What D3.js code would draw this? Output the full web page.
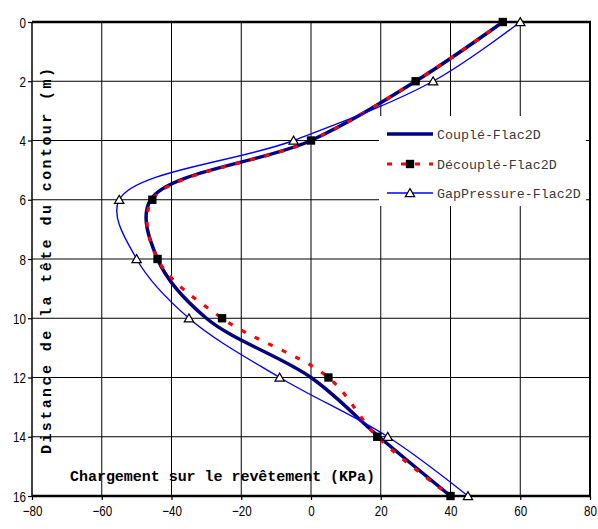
<!DOCTYPE html>
<html>
<head>
<meta charset="utf-8">
<script src="https://cdn.jsdelivr.net/npm/d3@7"></script>
<style>
  html, body { margin: 0; padding: 0; background: #fff; }
  svg { display: block; }
  .tick-label { font-family: "Liberation Sans", Arial, sans-serif; font-size: 14.5px; fill: #000; }
</style>
</head>
<body>
<svg id="chart" width="598" height="529"></svg>
<script>
// Depth along the lining (m) and load on the lining (kPa) for each model
const depths = [0, 2, 4, 6, 8, 10, 12, 14, 16];
const couple = [55, 30, 0, -46, -44, -30, 0, 19.5, 40];
const decouple = [55, 30, 0, -45.5, -44, -25.5, 5, 19, 40];
const gapPressure = [60, 35, -5, -55, -50, -35, -9, 22, 45];

const xTicks = [-80, -60, -40, -20, 0, 20, 40, 60, 80];
const yTicks = [0, 2, 4, 6, 8, 10, 12, 14, 16];

const seriesNames = ["Couplé-Flac2D", "Découplé-Flac2D", "GapPressure-Flac2D"];

const svg = d3.select("#chart");

const x = d3.scaleLinear().domain([-80, 80]).range([32, 590]);
const y = d3.scaleLinear().domain([0, 16]).range([22, 496]);

const [x0, x1] = x.range();
const [y0, y1] = y.range();

// grid
const grid = svg.append("g");
grid.selectAll("line.v").data(xTicks.filter(v => v > -80 && v < 80)).join("line")
  .attr("x1", d => x(d)).attr("x2", d => x(d))
  .attr("y1", y0).attr("y2", y1)
  .attr("stroke", "#000").attr("stroke-width", 1);
grid.selectAll("line.h").data(yTicks.filter(v => v > 0 && v < 16)).join("line")
  .attr("x1", x0).attr("x2", x1)
  .attr("y1", d => y(d)).attr("y2", d => y(d))
  .attr("stroke", "#000").attr("stroke-width", 1);

// axes (labels use a condensed sans)
const narrow = 0.8;
const yAxis = d3.axisLeft(y).tickValues(yTicks).tickSize(4).tickFormat(d3.format("d"));
const xAxis = d3.axisBottom(x).tickValues(xTicks).tickSize(4).tickFormat(d3.format("d"));

const gy = svg.append("g").attr("transform", `translate(${x0},0)`).call(yAxis);
const gx = svg.append("g").attr("transform", `translate(0,${y1})`).call(xAxis);
[gx, gy].forEach(g => {
  g.select(".domain").remove();
  g.selectAll(".tick line").attr("stroke", "#000").attr("stroke-width", 1.2);
  g.selectAll(".tick text").attr("class", "tick-label").attr("fill", "#000")
    .attr("transform", `scale(${narrow},1)`);
});
gy.selectAll(".tick text").attr("x", -6 / narrow).attr("dy", "0.36em");
gx.selectAll(".tick text").attr("x", 0).attr("y", 10).attr("dy", "0.71em");

// frame
svg.append("line").attr("x1", x0).attr("x2", x0).attr("y1", y0).attr("y2", y1)
  .attr("stroke", "#000").attr("stroke-width", 1.5);
svg.append("line").attr("x1", x1).attr("x2", x1).attr("y1", y0 - 1).attr("y2", y1 + 1)
  .attr("stroke", "#000").attr("stroke-width", 2);
svg.append("line").attr("x1", x0).attr("x2", x1 + 1).attr("y1", y0).attr("y2", y0)
  .attr("stroke", "#000").attr("stroke-width", 2.5);
svg.append("line").attr("x1", x0).attr("x2", x1 + 1).attr("y1", y1).attr("y2", y1)
  .attr("stroke", "#000").attr("stroke-width", 2.5);

// axis titles, drawn inside the plot area
svg.append("text")
  .attr("x", 70).attr("y", 481)
  .attr("font-family", "'Liberation Mono', 'Courier New', monospace")
  .attr("font-weight", "bold").attr("font-size", 15)
  .attr("textLength", 305).attr("lengthAdjust", "spacing")
  .text("Chargement sur le revêtement (KPa)");

svg.append("text")
  .attr("transform", "translate(51,454) rotate(-90)")
  .attr("font-family", "'Liberation Mono', 'Courier New', monospace")
  .attr("font-weight", "bold").attr("font-size", 15)
  .attr("textLength", 386).attr("lengthAdjust", "spacing")
  .text("Distance de la tête du contour (m)");

// curves
const line = vals => d3.line()
  .x((d, i) => x(vals[i]))
  .y(d => y(d))
  .curve(d3.curveCatmullRom.alpha(0.5))(depths);

svg.append("path").attr("d", line(couple))
  .attr("fill", "none").attr("stroke", "#000080").attr("stroke-width", 3.5)
  .attr("stroke-linejoin", "round");
svg.append("path").attr("d", line(decouple))
  .attr("fill", "none").attr("stroke", "#ff0000").attr("stroke-width", 3.2)
  .attr("stroke-dasharray", "5,10");
svg.append("path").attr("d", line(gapPressure))
  .attr("fill", "none").attr("stroke", "#0000ff").attr("stroke-width", 1.4);

// markers
const square = d3.symbol().type(d3.symbolSquare).size(70);
const tri = d3.symbol().type(d3.symbolTriangle).size(38);

svg.append("g").selectAll("path").data(depths).join("path")
  .attr("d", square)
  .attr("transform", (d, i) => `translate(${x(decouple[i])},${y(d)})`)
  .attr("fill", "#000");
svg.append("g").selectAll("path").data(depths).join("path")
  .attr("d", tri)
  .attr("transform", (d, i) => `translate(${x(gapPressure[i])},${y(d) + 1})`)
  .attr("fill", "#fff").attr("stroke", "#000").attr("stroke-width", 1.2);

// legend
const lg = svg.append("g");
lg.append("rect").attr("x", 379).attr("y", 116).attr("width", 207).attr("height", 90).attr("fill", "#fff");
const rows = [134, 164, 193];
const sx0 = 387, sx1 = 433;
lg.append("line").attr("x1", sx0).attr("x2", sx1).attr("y1", rows[0]).attr("y2", rows[0])
  .attr("stroke", "#000080").attr("stroke-width", 3.5);
lg.append("line").attr("x1", sx0).attr("x2", sx1).attr("y1", rows[1]).attr("y2", rows[1])
  .attr("stroke", "#ff0000").attr("stroke-width", 3.2).attr("stroke-dasharray", "5,9");
lg.append("path").attr("d", square).attr("transform", `translate(${(sx0 + sx1) / 2},${rows[1]})`).attr("fill", "#000");
lg.append("line").attr("x1", sx0).attr("x2", sx1).attr("y1", rows[2]).attr("y2", rows[2])
  .attr("stroke", "#0000ff").attr("stroke-width", 1.4);
lg.append("path").attr("d", tri).attr("transform", `translate(${(sx0 + sx1) / 2},${rows[2] + 1})`)
  .attr("fill", "#fff").attr("stroke", "#000").attr("stroke-width", 1.2);

lg.selectAll("text").data(seriesNames).join("text")
  .attr("x", 437).attr("y", (d, i) => rows[i]).attr("dy", "0.35em")
  .attr("font-family", "'Liberation Mono', 'Courier New', monospace")
  .attr("font-size", 13.3).attr("fill", "#3a3a3a")
  .text(d => d);
</script>
</body>
</html>
